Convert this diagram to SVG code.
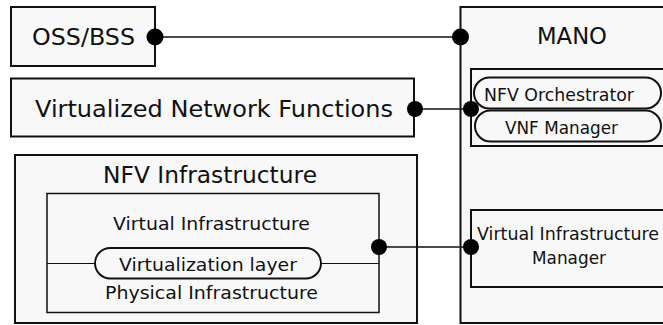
<svg xmlns="http://www.w3.org/2000/svg" width="663" height="325" viewBox="0 0 663 325">
<style>
.box{fill:#f8f8f8;stroke:#111;stroke-width:2}
.inner{fill:#f8f8f8;stroke:#111;stroke-width:1.5}
.pill{fill:#f8f8f8;stroke:#111;stroke-width:2}
.big{font-family:"DejaVu Sans",sans-serif;font-size:23px;fill:#111}
.small{font-family:"DejaVu Sans",sans-serif;font-size:18px;fill:#111}
.ln{stroke:#111;stroke-width:1.5;fill:none}
.thin{stroke:#111;stroke-width:1.2;fill:none}
.dot{fill:#000}
</style>
<rect width="663" height="325" fill="#fff"/>
<g id="oss">
<rect class="box" x="11" y="7" width="144" height="59"/>
<text class="big" x="32" y="45" textLength="103" lengthAdjust="spacingAndGlyphs">OSS/BSS</text>
</g>
<g id="vnf">
<rect class="box" x="11" y="78.5" width="403" height="58"/>
<text class="big" x="35" y="117" textLength="358" lengthAdjust="spacingAndGlyphs">Virtualized Network Functions</text>
</g>
<g id="nfvi">
<rect class="box" x="15" y="155" width="402" height="168"/>
<text class="big" x="103" y="183" textLength="214" lengthAdjust="spacingAndGlyphs">NFV Infrastructure</text>
<rect class="inner" x="47" y="193.5" width="332" height="119"/>
<text class="small" x="113" y="230" textLength="197" lengthAdjust="spacingAndGlyphs">Virtual Infrastructure</text>
<line class="thin" x1="47" y1="263.5" x2="95" y2="263.5"/>
<line class="thin" x1="321" y1="263.5" x2="379" y2="263.5"/>
<g id="virt-layer">
<rect class="pill" x="95" y="248" width="226" height="30.5" rx="15.25"/>
<text class="small" x="119" y="271" textLength="178" lengthAdjust="spacingAndGlyphs">Virtualization layer</text>
</g>
<text class="small" x="105" y="299" textLength="213" lengthAdjust="spacingAndGlyphs">Physical Infrastructure</text>
</g>
<g id="mano">
<rect class="box" x="460.5" y="7" width="230" height="316"/>
<text class="big" x="537" y="44" textLength="70" lengthAdjust="spacingAndGlyphs">MANO</text>
<rect class="box" x="471" y="69" width="220" height="77"/>
<g id="nfvo">
<rect class="pill" x="474" y="77.5" width="187" height="31" rx="15.5"/>
<text class="small" x="484" y="100.5" textLength="150" lengthAdjust="spacingAndGlyphs">NFV Orchestrator</text>
</g>
<g id="vnfm">
<rect class="pill" x="475" y="110.5" width="186" height="31" rx="15.5"/>
<text class="small" x="505" y="133.5" textLength="113" lengthAdjust="spacingAndGlyphs">VNF Manager</text>
</g>
<g id="vim">
<rect class="box" x="471" y="210" width="220" height="77"/>
<text class="small" x="477" y="240" textLength="182" lengthAdjust="spacingAndGlyphs">Virtual Infrastructure</text>
<text class="small" x="532" y="264" textLength="74" lengthAdjust="spacingAndGlyphs">Manager</text>
</g>
</g>
<g id="connectors">
<line class="ln" x1="155" y1="37" x2="460.5" y2="37"/>
<circle class="dot" cx="155" cy="37" r="8.5"/>
<circle class="dot" cx="460.5" cy="37" r="8.5"/>
<line class="ln" x1="415" y1="109" x2="471" y2="109"/>
<circle class="dot" cx="415" cy="109" r="8"/>
<circle class="dot" cx="471" cy="109" r="8"/>
<line class="ln" x1="379" y1="247" x2="471" y2="247"/>
<circle class="dot" cx="379" cy="247" r="8"/>
<circle class="dot" cx="471" cy="247" r="8"/>
</g>
</svg>
